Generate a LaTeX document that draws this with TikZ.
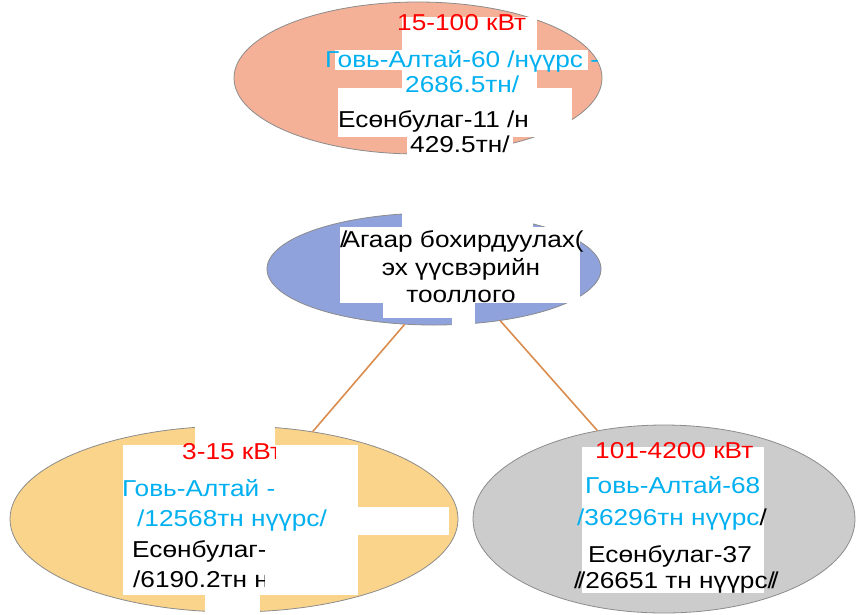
\documentclass[tikz,border=0pt]{standalone}
\usepackage{fontspec}
\setmainfont{Liberation Sans}
\newfontfamily\lsans[FakeStretch=1.14]{Liberation Sans}
\usetikzlibrary{shapes.geometric}
\definecolor{salmon}{HTML}{F4B197}
\definecolor{bluefill}{HTML}{8FA2DB}
\definecolor{yellowfill}{HTML}{FAD48A}
\definecolor{grayfill}{HTML}{CCCCCC}
\definecolor{txtred}{HTML}{FF0000}
\definecolor{txtcyan}{HTML}{00B0F0}
\definecolor{linkc}{HTML}{DA8C4E}
\tikzset{
  el/.style={ellipse, draw=black!45, line width=0.8pt, inner sep=0pt},
  txt/.style={inner sep=0pt, anchor=base west, font=\lsans\fontsize{23}{27}\selectfont},
  ctxt/.style={txt, anchor=base},
  link/.style={draw=linkc, line width=1.6pt},
  patch/.style={fill=white}
}
\begin{document}
\begin{tikzpicture}[x=1pt, y=-1pt]
\useasboundingbox (0,0) rectangle (858,614);
% ellipses
\node[el, fill=salmon, minimum width=368pt, minimum height=152pt] (top) at (418,78) {};
\node[el, fill=bluefill, minimum width=334pt, minimum height=112pt] (mid) at (434,269) {};
\node[el, fill=yellowfill, minimum width=448pt, minimum height=186pt] (bl) at (234,519) {};
\node[el, fill=grayfill, minimum width=382pt, minimum height=188pt] (br) at (664,519) {};
% connectors
\draw[link] (mid.242) -- (bl.48);
\draw[link] (mid.322) -- (br.127);
% white patches
\fill[patch] (402,17) rectangle (537,50);
\fill[patch] (335,50) rectangle (588,70);
\fill[patch] (402,70) rectangle (537,88);
\fill[patch] (338,88) rectangle (572,137);
\fill[patch] (407,133) rectangle (513,160);
\fill[patch] (402,211) rectangle (533,228);
\fill[patch] (340,227) rectangle (580,303);
\fill[patch] (383,303) rectangle (452,318);
\fill[patch] (452,303) rectangle (475,328);
\fill[patch] (195,415) rectangle (275,447);
\fill[patch] (123,445) rectangle (358,595);
\fill[patch] (358,507) rectangle (449,535);
\fill[patch] (205,595) rectangle (260,614);
\fill[patch] (582,447) rectangle (764,593);
% top texts
\node[txt, text=txtred] (t1) at (397,30) {15-100 кВт};
\node[txt, text=txtcyan] (t2) at (325,67) {Говь-Алтай-60 /нүүрс -};
\node[txt, text=txtcyan] (t3) at (405,92) {2686.5тн/};
\node[txt] (t4) at (338,127) {Есөнбулаг-11 /н};
\node[txt] (t5) at (410,152) {429.5тн/};
% middle texts
\begin{scope}
\clip (0,0) rectangle (596,614);
\node[txt] (m1) at (340,247) {/\kern-5pt Агаар бохирдуулах(};
\end{scope}
\node[ctxt] (m2) at (461,275) {эх үүсвэрийн};
\node[ctxt] (m3) at (461,302) {тооллого};
% bottom-left texts
\begin{scope}
\clip (0,0) rectangle (275,614);
\node[txt, text=txtred] (b1) at (182,459) {3-15 кВт};
\end{scope}
\node[txt, text=txtcyan] (b2) at (122,496) {Говь-Алтай -};
\node[txt, text=txtcyan] (b3) at (137,526) {/12568тн нүүрс/};
\begin{scope}
\clip (0,0) rectangle (264,614);
\node[txt] (b4) at (132,557) {Есөнбулаг-11};
\node[txt] (b5) at (133,587) {/6190.2тн нүүрс/};
\end{scope}
% bottom-right texts
\node[txt, text=txtred] (r1) at (595,458) {101-4200 кВт};
\node[txt, text=txtcyan] (r2) at (585,493) {Говь-Алтай-68};
\node[txt, text=txtcyan] (r3) at (577,525) {/36296тн нүүрс\textcolor{black}{/}};
\node[txt] (r4) at (588,562) {Есөнбулаг-37};
\node[txt] (r5) at (574,588) {/\kern-3.5pt/26651 тн нүүрс/\kern-3.5pt/};
\end{tikzpicture}
\end{document}
